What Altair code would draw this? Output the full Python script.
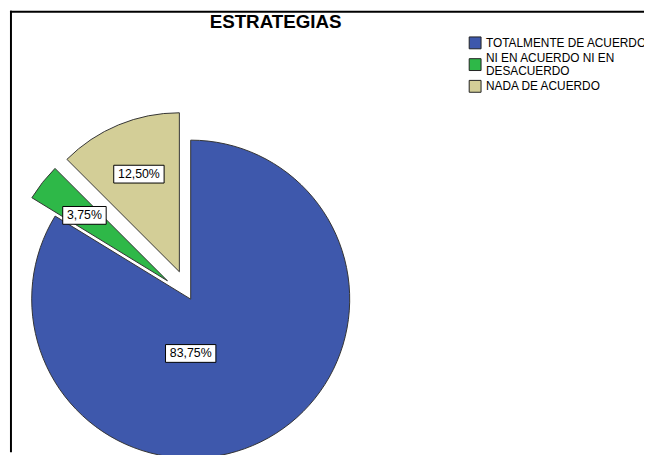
import altair as alt
import pandas as pd

TITLE = "ESTRATEGIAS"
categories = ["TOTALMENTE DE ACUERDO", "NI EN ACUERDO NI EN DESACUERDO", "NADA DE ACUERDO"]
legend_labels = ["TOTALMENTE DE ACUERDO", "NI EN ACUERDO NI EN\nDESACUERDO", "NADA DE ACUERDO"]
percentages = [83.75, 3.75, 12.50]
slice_order = [1, 2, 3]
colors = ["#3E58AC", "#2EB848", "#D3CE97"]

df = pd.DataFrame({
    "category": categories,
    "legend_label": legend_labels,
    "pct": percentages,
    "order": slice_order,
})

FONT = "Liberation Sans"
W, H = 644, 447
CX, CY = 185, 292
R = 161
EXPLODE = 30
LEG_X, LEG_Y, LEG_STEP, LEG_LH = 473, 32.5, 22, 13.5

color_scale = alt.Scale(domain=categories, range=colors)

base = (
    alt.Chart(df)
    .transform_window(cum="sum(pct)", sort=[alt.SortField("order")], frame=[None, 0])
    .transform_calculate(start="(datum.cum - datum.pct) / 100 * 2 * PI")
    .transform_calculate(stop="datum.cum / 100 * 2 * PI")
    .transform_calculate(mid="(datum.start + datum.stop) / 2")
    .transform_calculate(ex=f"datum.order == 1 ? 0 : {EXPLODE}")
    .transform_calculate(cx=f"{CX} + datum.ex * sin(datum.mid)")
    .transform_calculate(cy=f"{CY} - datum.ex * cos(datum.mid)")
    .transform_calculate(la="datum.ex > 0 ? datum.mid : PI")
    .transform_calculate(lr="datum.ex > 0 ? 107 : 55")
    .transform_calculate(lx="datum.cx + datum.lr * sin(datum.la)")
    .transform_calculate(ly="datum.cy - datum.lr * cos(datum.la)")
    .transform_calculate(label="replace(format(datum.pct, '.2f'), '.', ',') + '%'")
    .transform_calculate(bw="length(datum.label) * 7 + 9")
    .transform_calculate(bx1="datum.lx - datum.bw / 2")
    .transform_calculate(bx2="datum.lx + datum.bw / 2")
    .transform_calculate(by1="datum.ly - 9")
    .transform_calculate(by2="datum.ly + 9")
    .transform_calculate(sy=f"{LEG_Y} + (datum.order - 1) * {LEG_STEP}")
    .transform_calculate(nl="length(split(datum.legend_label, '\\n'))")
    .transform_calculate(ty=f"datum.sy - (datum.nl - 1) * {LEG_LH} / 2")
)

arcs = base.mark_arc(radius=R, stroke="#333333", strokeWidth=1).encode(
    x=alt.X("cx:Q", scale=None, axis=None),
    y=alt.Y("cy:Q", scale=None, axis=None),
    theta=alt.Theta("start:Q", scale=None),
    theta2=alt.Theta2("stop:Q"),
    color=alt.Color("category:N", scale=color_scale, legend=None),
)

boxes = base.mark_rect(fill="white", stroke="black", strokeWidth=1).encode(
    x=alt.X("bx1:Q", scale=None, axis=None),
    x2="bx2:Q",
    y=alt.Y("by1:Q", scale=None, axis=None),
    y2="by2:Q",
)

labels = base.mark_text(font=FONT, fontSize=12.5, color="black", baseline="middle", align="center").encode(
    x=alt.X("lx:Q", scale=None, axis=None),
    y=alt.Y("ly:Q", scale=None, axis=None),
    text="label:N",
)

leg_symbols = base.mark_point(
    shape="square", size=144, filled=True, opacity=1, stroke="#222222", strokeWidth=1
).encode(
    x=alt.value(LEG_X),
    y=alt.Y("sy:Q", scale=None, axis=None),
    fill=alt.Fill("category:N", scale=color_scale, legend=None),
)

leg_text = base.mark_text(
    font=FONT, fontSize=12, color="black", baseline="middle", align="left",
    lineBreak="\n", lineHeight=LEG_LH,
).encode(
    x=alt.value(LEG_X + 11),
    y=alt.Y("ty:Q", scale=None, axis=None),
    text="legend_label:N",
)

one = pd.DataFrame({"t": [TITLE]})
top_rule = alt.Chart(one).mark_rule(color="black", strokeWidth=2).encode(
    x=alt.value(2), x2=alt.value(W), y=alt.value(1)
)
left_rule = alt.Chart(one).mark_rule(color="black", strokeWidth=2).encode(
    x=alt.value(3), y=alt.value(0), y2=alt.value(H)
)
title = alt.Chart(one).mark_text(
    font=FONT, fontSize=19, fontWeight="bold", color="black", baseline="middle", align="center"
).encode(x=alt.value(271), y=alt.value(11), text="t:N")

chart = (
    alt.layer(top_rule, left_rule, arcs, boxes, labels, leg_symbols, leg_text, title)
    .properties(width=W, height=H, autosize=alt.AutoSizeParams(type="none"), padding=0)
    .configure_view(stroke=None)
)

chart.save("out.html", embed_options={"renderer": "svg", "actions": False})
